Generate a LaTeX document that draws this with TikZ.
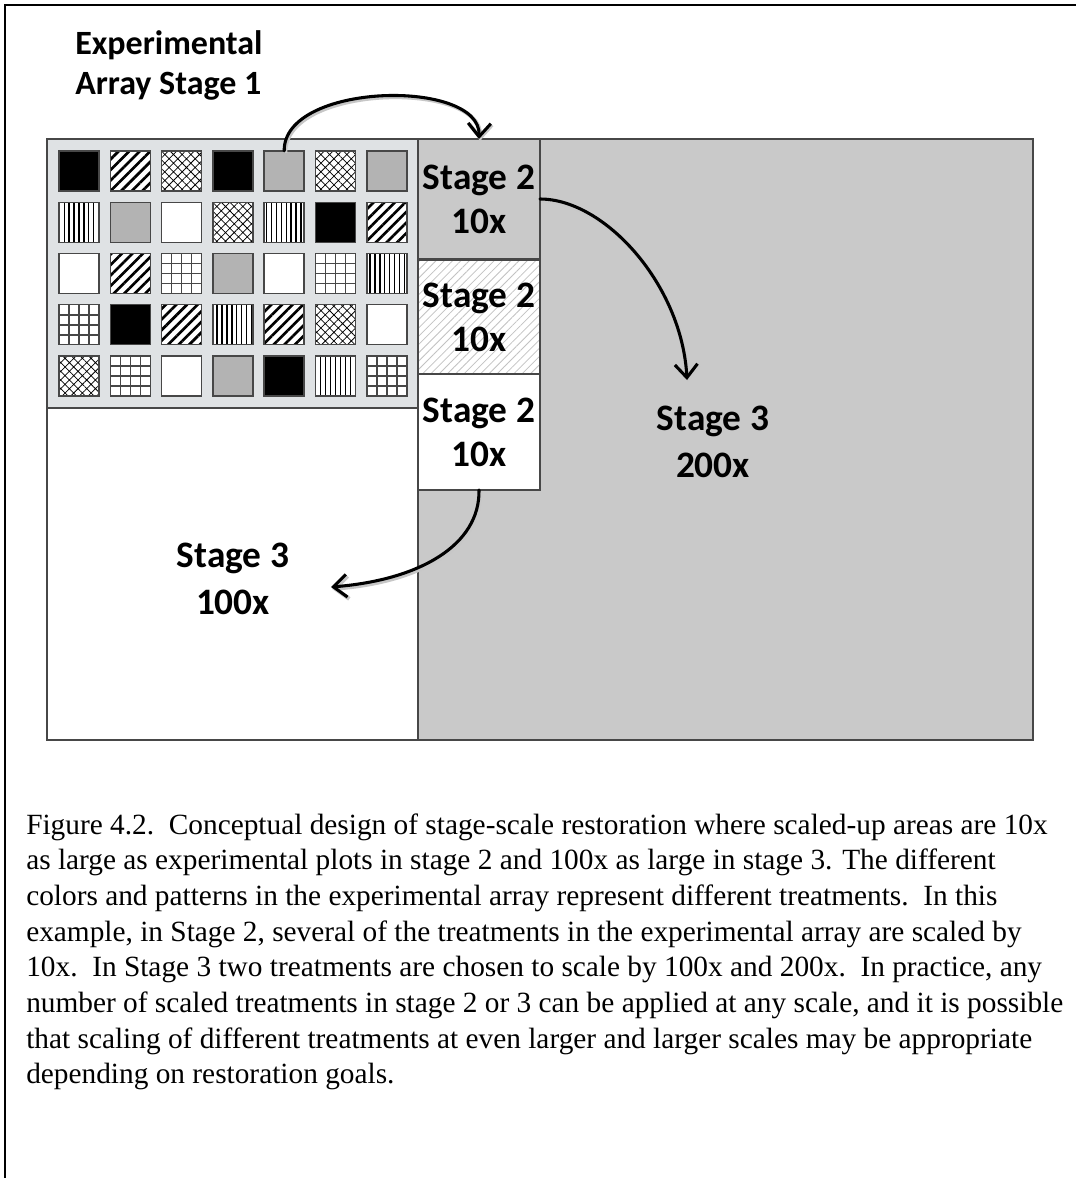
\documentclass[tikz,border=0pt]{standalone}
\usepackage{fontspec}
\setmainfont{Liberation Serif}
\setsansfont{Carlito}
\usetikzlibrary{patterns.meta,arrows.meta,calc}

\definecolor{arrayfill}{HTML}{DFE2E4}
\definecolor{plotgray}{HTML}{B3B3B3}
\definecolor{stagegray}{HTML}{C9C9C9}
\definecolor{edgegray}{HTML}{474747}
\definecolor{hatchgray}{HTML}{C2C2C2}

\begin{document}
\begin{tikzpicture}[x=0.75pt,y=-0.75pt,
  region/.style={draw=edgegray, line width=1.1pt, inner sep=0pt, outer sep=0pt},
  stagebox/.style={draw=edgegray, line width=1pt, minimum width=91.5pt, inner sep=0pt, outer sep=0pt,
    font=\sffamily\bfseries\fontsize{28}{33}\selectfont, align=center},
  bigtext/.style={font=\sffamily\bfseries\fontsize{28}{35}\selectfont, align=center, inner sep=0pt},
  plot/.style={draw=edgegray, line width=1.1pt, minimum width=30pt, minimum height=30pt,
    inner sep=0pt, outer sep=0pt},
  plotK/.style={fill=black},
  plotG/.style={fill=plotgray},
  plotW/.style={fill=white},
  plotD/.style={preaction={fill=white}, pattern={Lines[angle=45,distance=5.6pt,line width=2pt]}},
  plotX/.style={preaction={fill=white}, pattern={Hatch[angle=45,distance=4.6pt,line width=0.55pt]}},
  plotV/.style={preaction={fill=white}, pattern={Lines[angle=90,distance=3.7pt,line width=0.95pt]}},
  plotR/.style={fill=white, path picture={
      \foreach \t in {0.25,0.5,0.75}{
        \draw[line width=1.2pt]
          ($(path picture bounding box.north west)!\t!(path picture bounding box.north east)$) --
          ($(path picture bounding box.south west)!\t!(path picture bounding box.south east)$);
        \draw[line width=1.2pt]
          ($(path picture bounding box.north west)!\t!(path picture bounding box.south west)$) --
          ($(path picture bounding box.north east)!\t!(path picture bounding box.south east)$);
      }}},
  flow/.style={line width=2.3pt, line cap=round,
    -{Straight Barb[length=10pt,width=17pt]},
    preaction={draw=black!22, line width=3pt,
      transform canvas={xshift=0.8pt,yshift=-1.4pt}}},
  caption/.style={anchor=base west, inner sep=0pt, font=\fontsize{22}{26.7}\selectfont}
]
\useasboundingbox (0,0) rectangle (1076,1178);

% page frame
\draw[line width=1.5pt] (5,1178) -- (5,5) -- (1076,5);

% title
\node[anchor=north west, inner sep=0pt, align=left,
  font=\sffamily\bfseries\fontsize{25.5}{30}\selectfont] (title) at (75,30)
  {Experimental\\Array Stage 1};

% stage 3 areas and the experimental array
\node[region, fill=stagegray, minimum width=461.25pt, minimum height=450.75pt] (s3big) at (725.5,439.5) {};
\node[region, fill=white, minimum width=278.25pt, minimum height=249pt] (s3small) at (232.5,574) {};
\node[region, fill=arrayfill, minimum width=278.25pt, minimum height=201.75pt] (array) at (232.5,273.5) {};

% stage 2 areas
\node[stagebox, fill=stagegray, minimum height=90pt] (s2a) at (479,199) {Stage 2\\10x};
\node[stagebox, preaction={fill=white}, pattern={Lines[angle=45,distance=4.4pt,line width=0.6pt]},
  pattern color=hatchgray, minimum height=86.25pt] (s2b) at (479,316.5) {};
\node[stagebox, minimum height=86.25pt] (s2btext) at (479,317.5) {Stage 2\\10x};
\node[stagebox, fill=white, minimum height=87pt] (s2c) at (479,432) {Stage 2\\10x};

% experimental plots, row by row
\foreach \t [count=\i from 0] in {K,D,X,K,G,X,G,
                                  V,G,W,X,V,K,D,
                                  W,D,R,G,W,R,V,
                                  R,K,D,V,D,X,W,
                                  X,R,W,G,K,V,R}{
  \node[plot, plot\t] (p\i) at ({79+mod(\i,7)*51.3},{171+floor(\i/7)*51.25}) {};
}

% stage 3 labels
\node[bigtext] (t3big) at (713,442) {Stage 3\\200x};
\node[bigtext] (t3small) at (233,579) {Stage 3\\100x};

% scaling arrows
\coordinate (tipbig) at (687,380);
\coordinate (tipsmall) at (331,587);
\draw[flow] (p4.north) .. controls (283,82) and (481,78) .. (s2a.north);
\draw[flow] (s2a.east) .. controls (605,199) and (682,285) .. (tipbig);
\draw[flow] (s2c.south) .. controls (480,545) and (420,580) .. (tipsmall);

% caption
\node[caption] (c1) at (26,834.0) {Figure 4.2.\ \ Conceptual design of stage-scale restoration where scaled-up areas are 10x};
\node[caption] (c2) at (26,869.7) {as large as experimental plots in stage 2 and 100x as large in stage 3. The different};
\node[caption] (c3) at (26,905.4) {colors and patterns in the experimental array represent different treatments.\ \ In this};
\node[caption] (c4) at (26,941.1) {example, in Stage 2, several of the treatments in the experimental array are scaled by};
\node[caption] (c5) at (26,976.8) {10x.\ \ In Stage 3 two treatments are chosen to scale by 100x and 200x.\ \ In practice, any};
\node[caption] (c6) at (26,1012.5) {number of scaled treatments in stage 2 or 3 can be applied at any scale, and it is possible};
\node[caption] (c7) at (26,1048.2) {that scaling of different treatments at even larger and larger scales may be appropriate};
\node[caption] (c8) at (26,1083.9) {depending on restoration goals.};
\end{tikzpicture}
\end{document}
